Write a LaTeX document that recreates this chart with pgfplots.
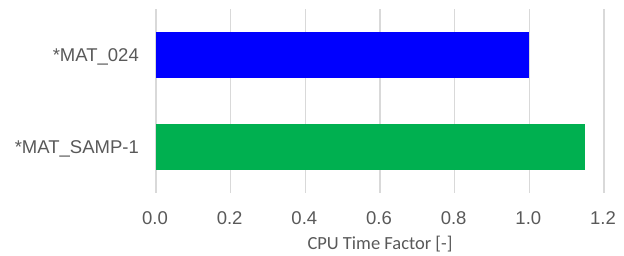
\documentclass[border=0pt]{standalone}
\usepackage{pgfplots}
\pgfplotsset{compat=1.18}
\usepackage{fontspec}
\setmainfont{Liberation Sans}
\newfontfamily\carlito{Carlito}
\definecolor{txt}{HTML}{595959}
\definecolor{gridc}{HTML}{D9D9D9}
\definecolor{bblue}{HTML}{0000FF}
\definecolor{bgreen}{HTML}{00B050}
\begin{document}
\begin{tikzpicture}[x=1pt,y=1pt]
\path[use as bounding box] (0,0) rectangle (624,256);
\begin{axis}[
  at={(156pt,63pt)}, anchor=south west,
  scale only axis, width=448pt, height=184pt,
  xbar, bar width=46pt,
  xmin=0, xmax=1.2, ymin=-0.5, ymax=1.5,
  xtick={0,0.2,0.4,0.6,0.8,1.0,1.2},
  x tick label style={/pgf/number format/fixed, /pgf/number format/fixed zerofill, /pgf/number format/precision=1},
  ytick={0,1}, yticklabels={*MAT\_SAMP-1,*MAT\_024},
  axis line style={draw=none},
  major tick length=0pt,
  xmajorgrids, grid style={draw=gridc, line width=1.5pt},
  clip=false,
  /pgf/number format/assume math mode=true,
  tick label style={font=\fontsize{18.5}{20}\selectfont, text=txt},
  xticklabel style={anchor=base, inner sep=0pt, yshift=-31.3pt, xshift=-1pt},
  yticklabel style={anchor=base east, inner sep=0pt, xshift=-17pt, yshift=-6.6pt},
  xlabel={CPU Time Factor [-]},
  xlabel style={font=\carlito\fontsize{18.5}{20}\selectfont, text=txt,
    at={(axis description cs:0.5,0)}, anchor=base, inner sep=0pt, yshift=-56.3pt},
]
\addplot[fill=bblue, draw=none, bar shift=0pt] coordinates {(1.0,1)};
\addplot[fill=bgreen, draw=none, bar shift=0pt] coordinates {(1.15,0)};
\end{axis}
\end{tikzpicture}
\end{document}
